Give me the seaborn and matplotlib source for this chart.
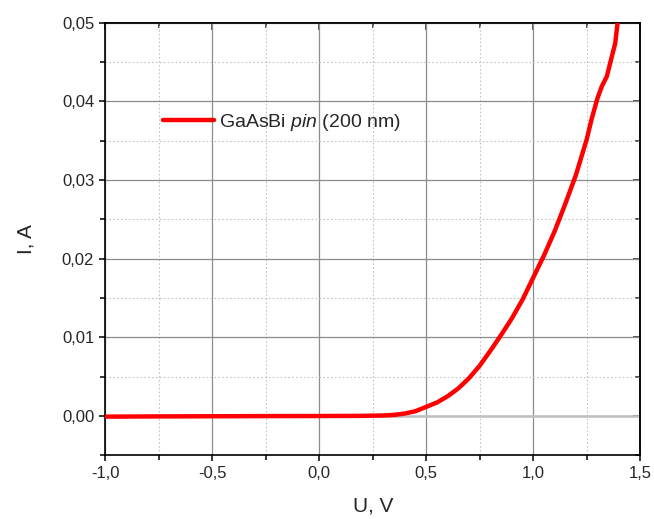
import numpy as np
import pandas as pd
import matplotlib
matplotlib.use("Agg")
import matplotlib.pyplot as plt
from matplotlib.ticker import MultipleLocator, FuncFormatter
import seaborn as sns

# I-V curve
voltage = [-1.0, -0.75, -0.5, -0.25, 0.0, 0.2, 0.3, 0.35, 0.4, 0.45, 0.5, 0.55,
           0.6, 0.65, 0.7, 0.75, 0.8, 0.85, 0.9, 0.95, 1.0, 1.05, 1.1, 1.15,
           1.2, 1.25, 1.273, 1.3, 1.32, 1.344, 1.367, 1.383, 1.394]
current = [-0.0001, -0.00007, -0.00005, -0.00003, -0.00002, 0.0, 0.00005, 0.00012,
           0.0003, 0.0006, 0.00115, 0.0017, 0.0025, 0.0035, 0.0048, 0.0064, 0.0083,
           0.0103, 0.0124, 0.0148, 0.0176, 0.0204, 0.0235, 0.0270, 0.0307, 0.0352,
           0.0378, 0.0404, 0.0419, 0.0432, 0.0457, 0.0474, 0.0500]
series_label = r"GaAsBi $\mathit{pin}$ (200 nm)"

df = pd.DataFrame({"U": voltage, "I": current})

sns.set_style("white")
plt.rcParams["font.family"] = ["Liberation Sans", "DejaVu Sans"]
plt.rcParams["mathtext.fontset"] = "custom"
plt.rcParams["mathtext.rm"] = "Liberation Sans"
plt.rcParams["mathtext.it"] = "Liberation Sans:italic"

fig = plt.figure(figsize=(6.54, 5.19), dpi=100)
ax = fig.add_axes([0.161, 0.123, 0.818, 0.833])

comma = FuncFormatter(lambda v, p: f"{v:.1f}".replace(".", ","))
comma2 = FuncFormatter(lambda v, p: f"{v:.2f}".replace(".", ","))

ax.axhline(0, color="#c0c0c0", lw=1.8, zorder=1)
sns.lineplot(data=df, x="U", y="I", sort=False, estimator=None, color="#ff0000",
             lw=3.2, label=series_label, ax=ax, zorder=3)

ax.set_xlim(-1.0, 1.5)
ax.set_ylim(-0.005, 0.05)
ax.xaxis.set_major_locator(MultipleLocator(0.5))
ax.xaxis.set_minor_locator(MultipleLocator(0.25))
ax.yaxis.set_major_locator(MultipleLocator(0.01))
ax.yaxis.set_minor_locator(MultipleLocator(0.005))
ax.xaxis.set_major_formatter(comma)
ax.yaxis.set_major_formatter(comma2)

ax.grid(which="major", color="#8c8c8c", lw=0.9, ls="-", zorder=0)
ax.grid(which="minor", color="#c4c4c4", lw=0.8, ls=(0, (1.5, 2)), zorder=0)
ax.set_axisbelow(True)

for s in ax.spines.values():
    s.set_linewidth(1.2)
    s.set_color("black")

ax.tick_params(which="both", direction="out", bottom=True, left=True,
               top=False, right=False, labelsize=12, width=1.1, color="black")
ax.tick_params(which="major", length=4.5)
ax.tick_params(which="minor", length=3.5)

top = ax.secondary_xaxis("top")
top.xaxis.set_major_locator(MultipleLocator(0.5))
top.xaxis.set_minor_locator(MultipleLocator(0.25))
top.tick_params(which="both", direction="in", labeltop=False, width=1.1)
top.tick_params(which="major", length=5)
top.tick_params(which="minor", length=3.5)
top.spines["top"].set_linewidth(1.2)

right = ax.secondary_yaxis("right")
right.yaxis.set_major_locator(MultipleLocator(0.01))
right.yaxis.set_minor_locator(MultipleLocator(0.005))
right.tick_params(which="both", direction="in", labelright=False, width=1.1)
right.tick_params(which="major", length=5)
right.tick_params(which="minor", length=3.5)
right.spines["right"].set_linewidth(1.2)

ax.set_xlabel("U, V", fontsize=15, labelpad=11)
ax.set_ylabel("I, A", fontsize=15, labelpad=19)

ax.legend(loc="center left", bbox_to_anchor=(0.108, 0.769), frameon=False,
          fontsize=14, handlelength=2.6, handletextpad=0.3, borderpad=0,
          borderaxespad=0)

fig.savefig("out.png", dpi=100)
